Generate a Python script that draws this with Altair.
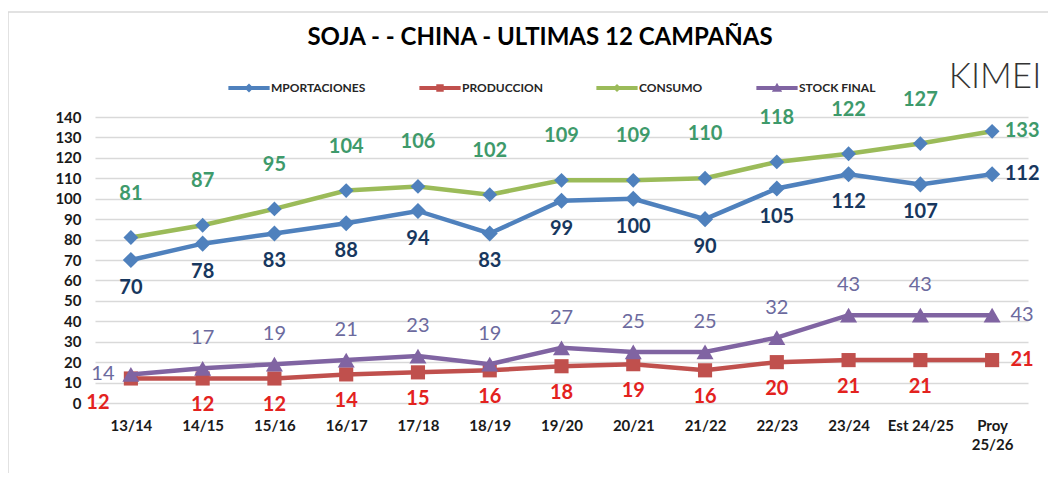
import altair as alt
import pandas as pd

# ---------------- data ----------------
campaigns = ["13/14", "14/15", "15/16", "16/17", "17/18", "18/19", "19/20",
             "20/21", "21/22", "22/23", "23/24", "Est 24/25", "Proy 25/26"]
series_names = ["MPORTACIONES", "PRODUCCION", "CONSUMO", "STOCK FINAL"]
importaciones = [70, 78, 83, 88, 94, 83, 99, 100, 90, 105, 112, 107, 112]
produccion = [12, 12, 12, 14, 15, 16, 18, 19, 16, 20, 21, 21, 21]
consumo = [81, 87, 95, 104, 106, 102, 109, 109, 110, 118, 122, 127, 133]
stock_final = [14, 17, 19, 21, 23, 19, 27, 25, 25, 32, 43, 43, 43]
y_ticks = list(range(0, 141, 10))
title_text = "SOJA -  - CHINA - ULTIMAS 12 CAMPAÑAS"
logo_text = "KIMEI"

# ---------------- styles ----------------
line_colors = ["#4F81BD", "#C0504D", "#9BBB59", "#8064A2"]
marker_colors = ["#4F81BD", "#C0504D", "#4F81BD", "#8064A2"]
marker_shapes = ["diamond", "square", "diamond", "triangle-up"]
marker_sizes = [260, 200, 220, 290]
label_colors = ["#17375E", "#E3221E", "#3E9A6B", "#6C6A9E"]
label_weights = ["bold", "bold", "bold", "normal"]
label_dy = [28, 27, -44, -30]
legend_paths = [
    "M-1,-0.1H1V0.1H-1Z M0,-0.22L0.22,0L0,0.22L-0.22,0Z",
    "M-1,-0.1H1V0.1H-1Z M-0.18,-0.18H0.18V0.18H-0.18Z",
    "M-1,-0.1H1V0.1H-1Z M0,-0.2L0.2,0L0,0.2L-0.2,0Z",
    "M-1,-0.1H1V0.1H-1Z M0,-0.25L0.25,0.18L-0.25,0.18Z",
]
FONT = "Lato"

rows = []
for name, vals in zip(series_names, [importaciones, produccion, consumo, stock_final]):
    for i, (c, v) in enumerate(zip(campaigns, vals)):
        rows.append({"campaign": c, "series": name, "value": v, "idx": i})
df = pd.DataFrame(rows)
last = len(campaigns) - 1

W, H = 933, 286

x_enc = alt.X(
    "campaign:N", sort=campaigns,
    scale=alt.Scale(type="point", padding=0.5),
    axis=alt.Axis(title=None, labelFont=FONT, labelFontWeight="bold", labelFontSize=15,
                  labelColor="#1a1a1a", labelAngle=0, ticks=False, domain=False, grid=False,
                  labelPadding=15, labelLineHeight=19, labelOverlap=False,
                  labelExpr="datum.label == 'Proy 25/26' ? ['Proy', '25/26'] : datum.label"),
)
y_enc = alt.Y(
    "value:Q", scale=alt.Scale(domain=[0, 140], nice=False),
    axis=alt.Axis(values=y_ticks, title=None, labelFont=FONT, labelFontWeight="bold",
                  labelFontSize=15, labelColor="#1a1a1a", domain=False, ticks=False,
                  labelOverlap=False, labelPadding=14, gridColor="#D9D9D9", gridWidth=1.5),
)

base = alt.Chart(df).encode(x=x_enc, y=y_enc)
color_scale = alt.Scale(domain=series_names, range=line_colors)
shape_scale = alt.Scale(domain=series_names, range=legend_paths)

legend_def = alt.Legend(
    orient="none", legendX=133, legendY=-50, direction="horizontal",
    symbolSize=1700, symbolOpacity=1, symbolStrokeWidth=0,
    labelFont=FONT, labelFontWeight="bold", labelFontSize=12,
    labelColor="#262626", labelOffset=1, columnPadding=53, labelLimit=200,
)

layers = []

# frame
layers.append(
    alt.Chart(pd.DataFrame({"a": [0]})).mark_rect(fillOpacity=0, stroke="#D9D9D9", strokeWidth=1.5)
    .encode(x=alt.value(-87), x2=alt.value(1100), y=alt.value(-105), y2=alt.value(500))
)

for k, name in enumerate(series_names):
    sub = base.transform_filter(alt.datum.series == name)
    layers.append(sub.mark_line(strokeWidth=4.5, color=line_colors[k]))
    layers.append(sub.mark_point(filled=True, opacity=1, shape=marker_shapes[k],
                                 size=marker_sizes[k], color=marker_colors[k]))

# legend (hidden marks, visible legend)
legend_layer = base.transform_calculate(leg="datum.series").mark_point(
    filled=True, opacity=0
).encode(
    color=alt.Color("leg:N", scale=color_scale, title=None, legend=legend_def),
    shape=alt.Shape("leg:N", scale=shape_scale, title=None, legend=legend_def),
)
layers.append(legend_layer)

# data labels
for k, name in enumerate(series_names):
    sub = base.transform_filter(alt.datum.series == name)
    txt = dict(font=FONT, fontSize=20, fontWeight=label_weights[k], color=label_colors[k],
               baseline="middle")
    has_first = name in ("STOCK FINAL", "PRODUCCION")
    start = 1 if has_first else 0
    layers.append(
        sub.transform_filter((alt.datum.idx >= start) & (alt.datum.idx < last))
        .mark_text(align="center", dy=label_dy[k], **txt).encode(text="value:Q")
    )
    layers.append(
        sub.transform_filter(alt.datum.idx == last)
        .mark_text(align="center", dx=30, **txt).encode(text="value:Q")
    )
    if has_first:
        fdy = 0 if name == "STOCK FINAL" else 25
        fdx = -28 if name == "STOCK FINAL" else -33
        layers.append(
            sub.transform_filter(alt.datum.idx == 0)
            .mark_text(align="center", dx=fdx, dy=fdy, **txt).encode(text="value:Q")
        )

# title and logo
layers.append(
    alt.Chart(pd.DataFrame({"t": [title_text]})).mark_text(
        font=FONT, fontSize=24, fontWeight="bold", color="#000000", align="center",
        baseline="middle").encode(text="t:N", x=alt.value(445), y=alt.value(-79))
)
layers.append(
    alt.Chart(pd.DataFrame({"t": [logo_text]})).mark_text(
        font=FONT, fontSize=35, fontWeight=300, color="#333333", align="center",
        baseline="middle").encode(text="t:N", x=alt.value(900), y=alt.value(-40))
)

chart = alt.layer(*layers).properties(
    width=W, height=H,
    autosize=alt.AutoSizeParams(type="none"),
    padding={"left": 87, "top": 109, "right": 20, "bottom": 70},
).configure_view(stroke=None)

chart.save("out.html", embed_options={"renderer": "svg", "actions": False})
